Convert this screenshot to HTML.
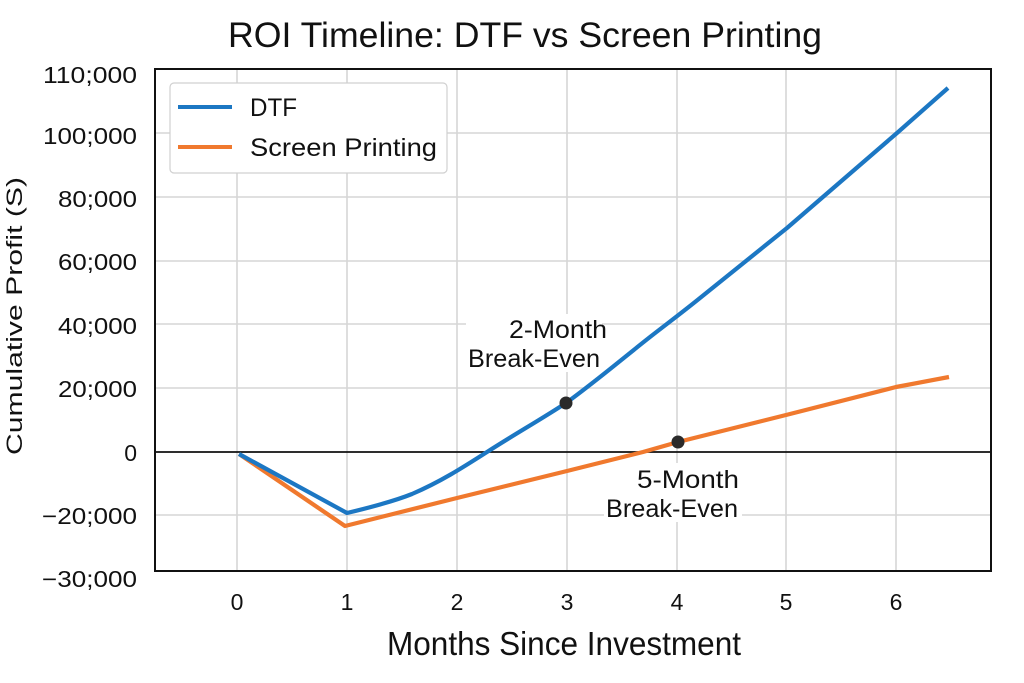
<!DOCTYPE html>
<html><head><meta charset="utf-8"><style>
html,body{margin:0;padding:0;background:#fff;}
svg{display:block;}
text{font-family:"Liberation Sans","DejaVu Sans",sans-serif;fill:#111;}
</style></head><body>
<svg width="1024" height="683" viewBox="0 0 1024 683" xmlns="http://www.w3.org/2000/svg">
<rect width="1024" height="683" fill="#fff"/>
<!-- grid -->
<g stroke="#d6d6d6" stroke-width="1.6">
<line x1="237" y1="70" x2="237" y2="571"/>
<line x1="347" y1="70" x2="347" y2="571"/>
<line x1="457" y1="70" x2="457" y2="571"/>
<line x1="567" y1="70" x2="567" y2="571"/>
<line x1="677" y1="70" x2="677" y2="571"/>
<line x1="786" y1="70" x2="786" y2="571"/>
<line x1="896" y1="70" x2="896" y2="571"/>
<line x1="155" y1="133" x2="991" y2="133"/>
<line x1="155" y1="197" x2="991" y2="197"/>
<line x1="155" y1="261" x2="991" y2="261"/>
<line x1="155" y1="324" x2="991" y2="324"/>
<line x1="155" y1="388" x2="991" y2="388"/>
<line x1="155" y1="515" x2="991" y2="515"/>
</g>
<!-- zero line -->
<line x1="155" y1="452" x2="991" y2="452" stroke="#111" stroke-width="1.8"/>
<!-- frame -->
<rect x="155" y="69" width="836" height="502" fill="none" stroke="#111" stroke-width="2"/>
<!-- annotation backgrounds -->
<rect x="466" y="314" width="136" height="58" fill="#fff"/>
<rect x="604" y="463" width="138" height="59" fill="#fff"/>
<!-- series -->
<path d="M239,454 L345,526 L457,498 L567,471 L643,452 L678,442 L786,415 L896,387 L949,377" fill="none" stroke="#f0792e" stroke-width="4.2" stroke-linejoin="round"/>
<path d="M239,454 L347,513 C368,508 392,502 412,494 C440,482 462,468 487,452 C515,434 540,420 566,403 C595,382 622,359 650,337 C668,323 684,311 700,298 L787,228 L897,133 L948,88" fill="none" stroke="#1c77c3" stroke-width="4.2" stroke-linejoin="round"/>
<circle cx="566" cy="403" r="6.5" fill="#2a2a2a"/>
<circle cx="678" cy="442" r="6.5" fill="#2a2a2a"/>
<!-- annotations -->
<text x="558" y="338" font-size="25" text-anchor="middle" textLength="98" lengthAdjust="spacingAndGlyphs">2-Month</text>
<text x="534" y="367" font-size="25" text-anchor="middle" textLength="132" lengthAdjust="spacingAndGlyphs">Break-Even</text>
<text x="688" y="488" font-size="25" text-anchor="middle" textLength="102" lengthAdjust="spacingAndGlyphs">5-Month</text>
<text x="672" y="517" font-size="25" text-anchor="middle" textLength="132" lengthAdjust="spacingAndGlyphs">Break-Even</text>
<!-- legend -->
<rect x="170" y="83" width="277" height="90" rx="4" fill="#fff" stroke="#d0d0d0" stroke-width="1.2"/>
<line x1="178" y1="107" x2="232" y2="107" stroke="#1c77c3" stroke-width="4"/>
<line x1="178" y1="147" x2="232" y2="147" stroke="#f0792e" stroke-width="4"/>
<text x="250" y="116" font-size="25" textLength="47" lengthAdjust="spacingAndGlyphs">DTF</text>
<text x="250" y="156" font-size="25" textLength="187" lengthAdjust="spacingAndGlyphs">Screen Printing</text>
<!-- y tick labels -->
<g font-size="23" text-anchor="end">
<text x="137" y="83" textLength="94" lengthAdjust="spacingAndGlyphs">110;000</text>
<text x="137" y="144" textLength="94" lengthAdjust="spacingAndGlyphs">100;000</text>
<text x="137" y="207" textLength="79" lengthAdjust="spacingAndGlyphs">80;000</text>
<text x="137" y="270" textLength="79" lengthAdjust="spacingAndGlyphs">60;000</text>
<text x="137" y="334" textLength="79" lengthAdjust="spacingAndGlyphs">40;000</text>
<text x="137" y="397" textLength="79" lengthAdjust="spacingAndGlyphs">20;000</text>
<text x="137" y="461">0</text>
<text x="137" y="524" textLength="95" lengthAdjust="spacingAndGlyphs">−20;000</text>
<text x="137" y="587" textLength="95" lengthAdjust="spacingAndGlyphs">−30;000</text>
</g>
<!-- x tick labels -->
<g font-size="23" text-anchor="middle">
<text x="237" y="610">0</text>
<text x="347" y="610">1</text>
<text x="457" y="610">2</text>
<text x="567" y="610">3</text>
<text x="677" y="610">4</text>
<text x="786" y="610">5</text>
<text x="896" y="610">6</text>
</g>
<!-- axis labels -->
<text x="564" y="655" font-size="33" text-anchor="middle" textLength="354" lengthAdjust="spacingAndGlyphs">Months Since Investment</text>
<text transform="translate(22,316) rotate(-90)" font-size="22" text-anchor="middle" textLength="278" lengthAdjust="spacingAndGlyphs">Cumulative Profit (S)</text>
<!-- title -->
<text x="525" y="47" font-size="35" text-anchor="middle" textLength="594" lengthAdjust="spacingAndGlyphs">ROI Timeline: DTF vs Screen Printing</text>
</svg>
</body></html>
